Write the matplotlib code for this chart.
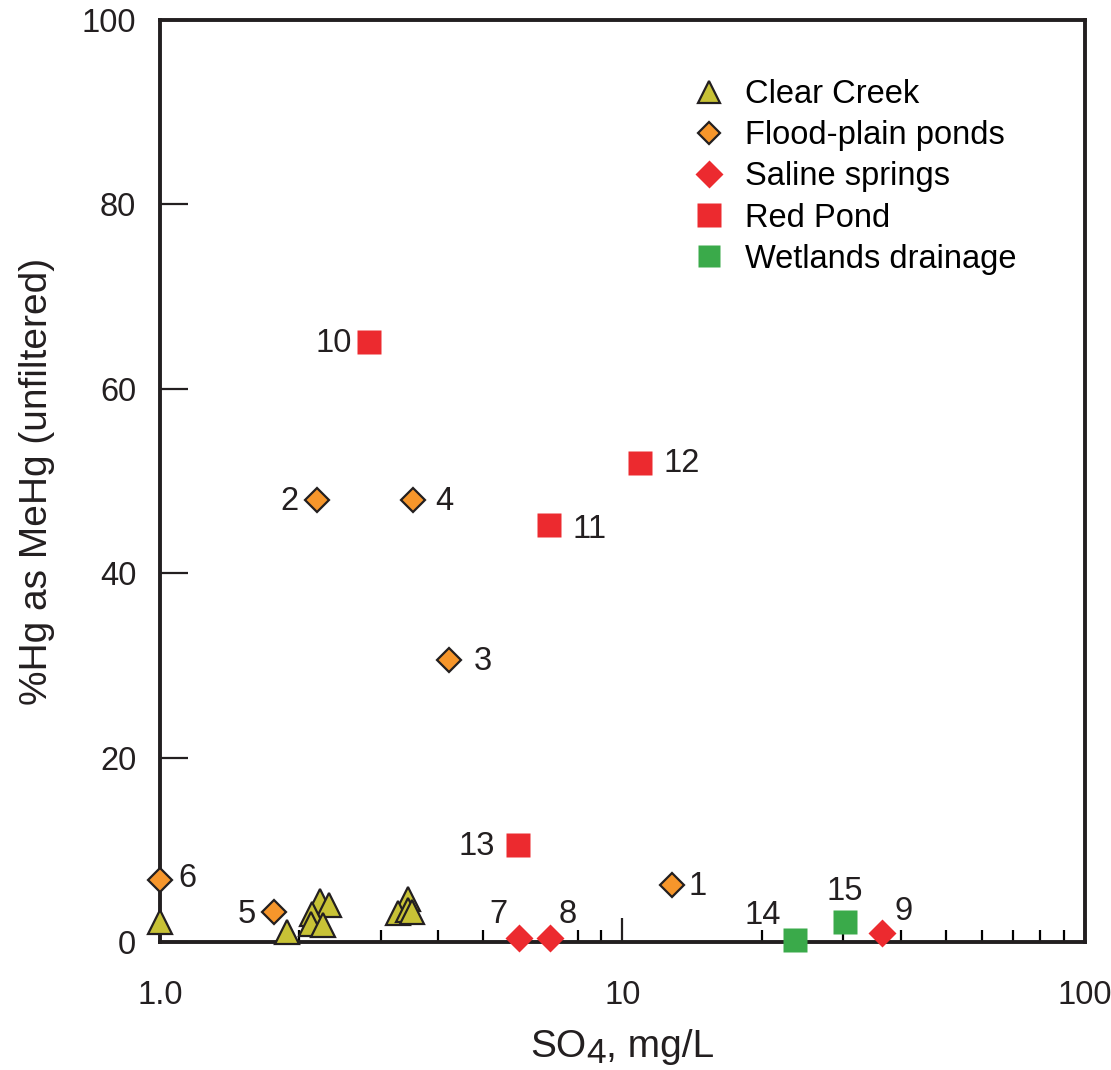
import numpy as np
import matplotlib
matplotlib.use("Agg")
import matplotlib.pyplot as plt
from matplotlib.ticker import LogLocator, NullFormatter, FixedLocator

plt.rcParams['font.family'] = ['Liberation Sans', 'DejaVu Sans']

# ---------- data ----------
creek_so4 = [1.0, 1.88, 2.22, 2.32, 2.13, 2.12, 2.25, 3.44, 3.27, 3.44, 3.5]
creek_hg = [2.2, 1.1, 4.4, 4.0, 3.0, 2.0, 1.8, 4.7, 3.2, 3.5, 3.3]

pond_so4 = [12.8, 2.18, 4.22, 3.52, 1.76, 1.0]
pond_hg = [6.2, 47.9, 30.6, 47.9, 3.3, 6.7]
pond_ids = ["1", "2", "3", "4", "5", "6"]

spring_so4 = [5.97, 6.97, 36.4]
spring_hg = [0.4, 0.4, 1.0]
spring_ids = ["7", "8", "9"]

red_so4 = [2.83, 6.93, 10.9, 5.95]
red_hg = [65.1, 45.2, 52.0, 10.5]
red_ids = ["10", "11", "12", "13"]

wet_so4 = [23.6, 30.3]
wet_hg = [0.2, 2.2]
wet_ids = ["14", "15"]

# label offsets in points (dx, dy, ha)
offsets = {
    "1": (12, -1, "left"), "2": (-13, -1, "right"), "3": (18, -1, "left"),
    "4": (16, -1, "left"), "5": (-13, -2, "right"), "6": (13, 1, "left"),
    "7": (-8, 17, "right"), "8": (6, 17, "left"), "9": (9, 15, "left"),
    "10": (-12, -1, "right"), "11": (17, -3, "left"), "12": (17, -1, "left"),
    "13": (-17, -1, "right"), "14": (-10, 18, "right"), "15": (0, 22, "center"),
}

c_creek = "#C8C236"
c_pond = "#F6962B"
c_red = "#EC2A2F"
c_green = "#3AAA4A"
ink = "#231F20"

fig = plt.figure(figsize=(11.11, 10.70), dpi=100)
ax = fig.add_axes([0.144, 0.1196, 0.8326, 0.8617])

ax.plot(creek_so4, creek_hg, linestyle="none", marker="^", ms=17,
        mfc=c_creek, mec=ink, mew=1.6, clip_on=False, zorder=5,
        label="Clear Creek")
ax.plot(pond_so4, pond_hg, linestyle="none", marker="D", ms=12,
        mfc=c_pond, mec=ink, mew=1.6, clip_on=False, zorder=5,
        label="Flood-plain ponds")
ax.plot(spring_so4, spring_hg, linestyle="none", marker="D", ms=14.5,
        mfc=c_red, mec="none", clip_on=False, zorder=5,
        label="Saline springs")
ax.plot(red_so4, red_hg, linestyle="none", marker="s", ms=17.5,
        mfc=c_red, mec="none", clip_on=False, zorder=5,
        label="Red Pond")
ax.plot(wet_so4, wet_hg, linestyle="none", marker="s", ms=17,
        mfc=c_green, mec="none", clip_on=False, zorder=5,
        label="Wetlands drainage")

for xs, ys, ids in [(pond_so4, pond_hg, pond_ids),
                    (spring_so4, spring_hg, spring_ids),
                    (red_so4, red_hg, red_ids),
                    (wet_so4, wet_hg, wet_ids)]:
    for x, y, t in zip(xs, ys, ids):
        dx, dy, ha = offsets[t]
        ax.annotate(t, (x, y), xytext=(dx, dy), textcoords="offset points",
                    ha=ha, va="center", fontsize=23.5, color=ink)

ax.set_xscale("log")
ax.set_xlim(1, 100)
ax.set_ylim(0, 100)
ax.xaxis.set_major_locator(FixedLocator([1, 10, 100]))
ax.xaxis.set_minor_locator(LogLocator(base=10, subs=np.arange(2, 10)))
ax.xaxis.set_minor_formatter(NullFormatter())
ax.set_xticklabels(["1.0", "10", "100"])
ax.set_yticks([0, 20, 40, 60, 80, 100])

for s in ax.spines.values():
    s.set_linewidth(2.8)
    s.set_color(ink)

ax.tick_params(axis="x", which="major", direction="in", length=17, width=1.6,
               pad=27, labelsize=23.5, colors=ink)
ax.tick_params(axis="x", which="minor", direction="in", length=9, width=1.6)
ax.tick_params(axis="y", which="major", direction="in", length=20, width=1.6,
               pad=17, labelsize=23.5, colors=ink)

ax.set_ylabel("%Hg as MeHg (unfiltered)", fontsize=28, color=ink,
              labelpad=19)

# x label with a nearly full-size, lowered subscript
fig.canvas.draw()
r = fig.canvas.get_renderer()
parts = [("SO", 0, 28), ("4", -6, 25.5), (", mg/L", 0, 28)]
texts = [fig.text(0, 0, p, fontsize=fs, color=ink) for p, _, fs in parts]
widths = [t.get_window_extent(r).width for t in texts]
ax_box = ax.get_window_extent(r)
xc = (ax_box.x0 + ax_box.x1) / 2
x = xc - sum(widths) / 2
base_y = 1070 - 1057
for t, (p, dy, fs), w in zip(texts, parts, widths):
    t.set_position((x / 1111, (base_y + dy) / 1070))
    x += w

leg = ax.legend(loc="upper left", bbox_to_anchor=(0.56, 0.95), frameon=False,
                fontsize=23.5, handletextpad=0.55, labelspacing=0.31,
                handlelength=1.1, borderaxespad=0)
for h in leg.legend_handles:
    h.set_markersize(h.get_markersize() * 0.95)

fig.savefig("out.png", dpi=100)
